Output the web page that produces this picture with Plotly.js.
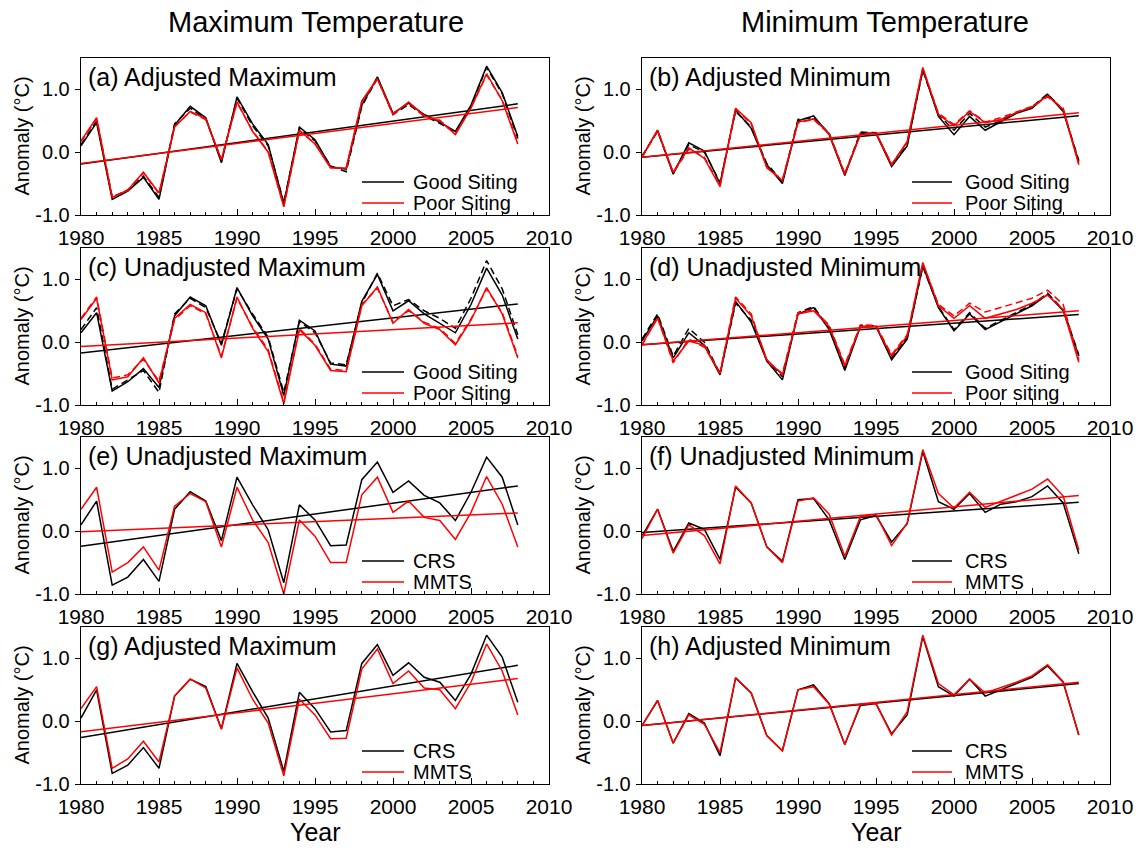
<!DOCTYPE html>
<html>
<head>
<meta charset="utf-8">
<script src="https://cdn.plot.ly/plotly-3.0.1.min.js"></script>
<style>html,body{margin:0;padding:0;background:#fff;}#chart{width:1138px;height:848px;}</style>
</head>
<body>
<div id="chart"></div>
<script>
// ---------------- DATA ----------------
const years = [1980,1981,1982,1983,1984,1985,1986,1987,1988,1989,1990,1991,1992,1993,1994,1995,1996,1997,1998,1999,2000,2001,2002,2003,2004,2005,2006,2007,2008];
const trendYears = [1980, 2008];

const columnTitles = ['Maximum Temperature', 'Minimum Temperature'];
const panelTitles = ['(a) Adjusted Maximum', '(b) Adjusted Minimum', '(c) Unadjusted Maximum', '(d) Unadjusted Minimum',
                     '(e) Unadjusted Maximum', '(f) Unadjusted Minimum', '(g) Adjusted Maximum', '(h) Adjusted Minimum'];
const legendLabels = [['Good Siting','Poor Siting'], ['Good Siting','Poor Siting'], ['Good Siting','Poor Siting'], ['Good Siting','Poor siting'],
                      ['CRS','MMTS'], ['CRS','MMTS'], ['CRS','MMTS'], ['CRS','MMTS']];
const yTickVals = [-1, 0, 1];
const yTickText = ['-1.0', '0.0', '1.0'];
const xTickVals = [1980, 1985, 1990, 1995, 2000, 2005, 2010];
const xTickText = ['1980', '1985', '1990', '1995', '2000', '2005', '2010'];
const yAxisLabel = 'Anomaly (°C)';
const xAxisLabel = 'Year';

// (a) Adjusted maximum, good vs poor siting
const aGood     = [0.10,0.47,-0.75,-0.62,-0.40,-0.75,0.43,0.73,0.55,-0.17,0.88,0.45,0.12,-0.82,0.40,0.20,-0.23,-0.27,0.75,1.20,0.62,0.78,0.60,0.48,0.33,0.75,1.37,0.95,0.25];
const aGoodDash = [0.12,0.50,-0.72,-0.60,-0.38,-0.72,0.45,0.70,0.53,-0.14,0.86,0.42,0.10,-0.80,0.38,0.18,-0.22,-0.31,0.73,1.18,0.60,0.76,0.58,0.46,0.32,0.73,1.35,0.93,0.22];
const aPoor     = [0.18,0.55,-0.72,-0.60,-0.32,-0.65,0.40,0.65,0.53,-0.12,0.80,0.33,0.00,-0.87,0.35,0.13,-0.25,-0.25,0.82,1.17,0.60,0.80,0.58,0.50,0.28,0.70,1.25,0.82,0.13];
const aPoorDash = [0.17,0.53,-0.71,-0.61,-0.33,-0.66,0.41,0.64,0.52,-0.11,0.79,0.34,0.01,-0.86,0.34,0.14,-0.24,-0.26,0.80,1.16,0.62,0.79,0.57,0.51,0.29,0.71,1.23,0.83,0.15];
const aTrendGood = [-0.19, 0.77];
const aTrendPoor = [-0.18, 0.71];

// (b) Adjusted minimum, good vs poor siting
const bGood     = [-0.08,0.35,-0.35,0.15,0.02,-0.50,0.67,0.38,-0.20,-0.50,0.50,0.58,0.28,-0.37,0.30,0.30,-0.23,0.10,1.32,0.57,0.28,0.57,0.35,0.48,0.62,0.70,0.92,0.65,-0.15];
const bGoodDash = [-0.06,0.33,-0.33,0.12,0.00,-0.48,0.65,0.40,-0.18,-0.47,0.52,0.55,0.30,-0.35,0.32,0.31,-0.21,0.12,1.30,0.60,0.35,0.62,0.40,0.50,0.63,0.72,0.93,0.66,-0.13];
const bPoor     = [-0.07,0.35,-0.32,0.07,-0.10,-0.55,0.70,0.47,-0.25,-0.45,0.48,0.53,0.30,-0.35,0.28,0.30,-0.20,0.17,1.35,0.60,0.42,0.65,0.47,0.52,0.63,0.72,0.90,0.68,-0.20];
const bPoorDash = [-0.08,0.34,-0.33,0.05,-0.08,-0.53,0.69,0.45,-0.24,-0.44,0.47,0.52,0.29,-0.34,0.29,0.31,-0.19,0.16,1.33,0.62,0.44,0.66,0.48,0.55,0.64,0.73,0.88,0.70,-0.18];
const bTrendGood = [-0.08, 0.58];
const bTrendPoor = [-0.08, 0.63];

// (c) Unadjusted maximum, good vs poor siting
const cGood     = [0.15,0.47,-0.78,-0.63,-0.42,-0.72,0.42,0.72,0.58,-0.05,0.87,0.42,0.05,-0.85,0.35,0.18,-0.35,-0.38,0.65,1.08,0.50,0.66,0.45,0.30,0.15,0.60,1.18,0.75,0.05];
const cGoodDash = [0.20,0.55,-0.75,-0.60,-0.45,-0.80,0.45,0.70,0.55,-0.02,0.85,0.45,0.08,-0.80,0.33,0.15,-0.33,-0.36,0.62,1.10,0.58,0.68,0.50,0.38,0.22,0.70,1.30,0.85,0.12];
const cPoor     = [0.36,0.70,-0.60,-0.55,-0.25,-0.65,0.38,0.60,0.47,-0.25,0.72,0.22,-0.15,-0.98,0.20,-0.05,-0.45,-0.47,0.58,0.88,0.30,0.52,0.30,0.20,-0.04,0.35,0.87,0.45,-0.25];
const cPoorDash = [0.38,0.72,-0.57,-0.52,-0.27,-0.62,0.36,0.58,0.45,-0.22,0.70,0.24,-0.12,-0.95,0.22,-0.03,-0.43,-0.45,0.60,0.86,0.32,0.50,0.32,0.22,-0.02,0.37,0.85,0.47,-0.22];
const cTrendGood = [-0.17, 0.61];
const cTrendPoor = [-0.07, 0.31];

// (d) Unadjusted minimum, good vs poor siting
const dGood     = [0.02,0.42,-0.25,0.15,-0.05,-0.52,0.65,0.32,-0.30,-0.60,0.45,0.55,0.20,-0.45,0.25,0.25,-0.28,0.05,1.22,0.55,0.18,0.45,0.20,0.33,0.45,0.58,0.76,0.50,-0.22];
const dGoodDash = [0.05,0.45,-0.22,0.22,0.00,-0.50,0.62,0.35,-0.28,-0.55,0.47,0.57,0.22,-0.42,0.27,0.26,-0.25,0.08,1.20,0.57,0.20,0.47,0.22,0.35,0.47,0.60,0.78,0.52,-0.20];
const dPoor     = [-0.03,0.38,-0.30,0.02,-0.05,-0.50,0.70,0.42,-0.28,-0.52,0.45,0.50,0.25,-0.38,0.25,0.25,-0.22,0.10,1.27,0.58,0.38,0.58,0.38,0.45,0.52,0.62,0.75,0.52,-0.32];
const dPoorDash = [-0.05,0.40,-0.33,0.05,-0.08,-0.48,0.72,0.45,-0.30,-0.50,0.47,0.52,0.27,-0.36,0.27,0.27,-0.20,0.12,1.25,0.60,0.42,0.62,0.48,0.55,0.62,0.70,0.83,0.60,-0.28];
const dTrendGood = [-0.04, 0.44];
const dTrendPoor = [-0.04, 0.50];

// (e) Unadjusted maximum, CRS vs MMTS
const eCRS  = [0.10,0.48,-0.86,-0.73,-0.45,-0.80,0.35,0.63,0.48,-0.15,0.86,0.42,0.02,-0.82,0.42,0.18,-0.23,-0.22,0.82,1.10,0.62,0.80,0.57,0.45,0.17,0.62,1.18,0.86,0.10];
const eMMTS = [0.35,0.70,-0.65,-0.50,-0.25,-0.62,0.40,0.60,0.47,-0.25,0.70,0.18,-0.18,-1.00,0.18,-0.08,-0.50,-0.50,0.58,0.86,0.30,0.48,0.22,0.17,-0.13,0.30,0.87,0.43,-0.25];
const eTrendCRS  = [-0.24, 0.72];
const eTrendMMTS = [-0.01, 0.29];

// (f) Unadjusted minimum, CRS vs MMTS
const fCRS  = [-0.08,0.35,-0.32,0.13,0.03,-0.45,0.70,0.45,-0.25,-0.48,0.50,0.52,0.18,-0.45,0.18,0.25,-0.17,0.12,1.27,0.47,0.35,0.60,0.30,0.43,0.47,0.55,0.72,0.45,-0.36];
const fMMTS = [-0.12,0.35,-0.35,0.10,-0.07,-0.52,0.72,0.45,-0.25,-0.50,0.48,0.53,0.27,-0.40,0.23,0.27,-0.23,0.13,1.30,0.60,0.37,0.62,0.38,0.48,0.57,0.67,0.83,0.56,-0.30];
const fTrendCRS  = [-0.02, 0.46];
const fTrendMMTS = [-0.07, 0.57];

// (g) Adjusted maximum, CRS vs MMTS
const gCRS  = [0.05,0.50,-0.83,-0.70,-0.42,-0.75,0.40,0.67,0.55,-0.12,0.92,0.47,0.05,-0.80,0.46,0.20,-0.17,-0.15,0.92,1.22,0.73,0.93,0.70,0.62,0.33,0.75,1.37,1.02,0.30];
const gMMTS = [0.20,0.55,-0.75,-0.60,-0.32,-0.65,0.40,0.67,0.53,-0.13,0.85,0.35,-0.03,-0.87,0.35,0.10,-0.28,-0.27,0.83,1.15,0.60,0.80,0.53,0.50,0.20,0.62,1.23,0.80,0.10];
const gTrendCRS  = [-0.26, 0.89];
const gTrendMMTS = [-0.17, 0.68];

// (h) Adjusted minimum, CRS vs MMTS
const hCRS  = [-0.07,0.33,-0.35,0.12,-0.03,-0.55,0.69,0.45,-0.23,-0.47,0.50,0.58,0.28,-0.37,0.25,0.28,-0.20,0.10,1.35,0.55,0.40,0.67,0.40,0.50,0.60,0.70,0.88,0.62,-0.22];
const hMMTS = [-0.07,0.33,-0.35,0.10,-0.05,-0.50,0.69,0.45,-0.23,-0.47,0.50,0.55,0.27,-0.37,0.27,0.28,-0.22,0.15,1.37,0.60,0.42,0.67,0.45,0.53,0.62,0.72,0.90,0.63,-0.22];
const hTrendCRS  = [-0.07, 0.60];
const hTrendMMTS = [-0.07, 0.62];

// ---------------- PANELS (built from the arrays above) ----------------
const panels = [
  {black: aGood, blackDash: aGoodDash, red: aPoor, redDash: aPoorDash, tBlack: aTrendGood, tRed: aTrendPoor},
  {black: bGood, blackDash: bGoodDash, red: bPoor, redDash: bPoorDash, tBlack: bTrendGood, tRed: bTrendPoor},
  {black: cGood, blackDash: cGoodDash, red: cPoor, redDash: cPoorDash, tBlack: cTrendGood, tRed: cTrendPoor},
  {black: dGood, blackDash: dGoodDash, red: dPoor, redDash: dPoorDash, tBlack: dTrendGood, tRed: dTrendPoor},
  {black: eCRS, red: eMMTS, tBlack: eTrendCRS, tRed: eTrendMMTS},
  {black: fCRS, red: fMMTS, tBlack: fTrendCRS, tRed: fTrendMMTS},
  {black: gCRS, red: gMMTS, tBlack: gTrendCRS, tRed: gTrendMMTS},
  {black: hCRS, red: hMMTS, tBlack: hTrendCRS, tRed: hTrendMMTS}
];

// ---------------- LAYOUT GEOMETRY (pixels) ----------------
const W = 1138, H = 848;
const colX = [[81, 549], [642, 1110]];
const rowY = [[58, 215], [248, 405], [437, 594], [627, 784]];
// legend line start/end and text start, relative to the panel's left edge
const legendOffsets = [[281, 323, 331], [270, 310, 322]];
const px = x => x / W;
const py = y => 1 - y / H;

const FONT = 'Liberation Sans, Arial, Helvetica, sans-serif';
const BLACK = '#000000', RED = '#ff0000';
const LW = 1.5;

const traces = [];
const layout = {
  width: W, height: H,
  margin: {l: 0, r: 0, t: 0, b: 0, pad: 0},
  paper_bgcolor: '#ffffff', plot_bgcolor: '#ffffff',
  showlegend: false,
  font: {family: FONT, color: '#000000'},
  annotations: [], shapes: []
};

panels.forEach((p, i) => {
  const col = i % 2, row = Math.floor(i / 2);
  const n = i + 1;
  const xa = n === 1 ? 'x' : 'x' + n;
  const ya = n === 1 ? 'y' : 'y' + n;
  const xKey = n === 1 ? 'xaxis' : 'xaxis' + n;
  const yKey = n === 1 ? 'yaxis' : 'yaxis' + n;
  const [L, R] = colX[col];
  const [T, B] = rowY[row];

  layout[xKey] = {
    domain: [px(L), px(R)], anchor: ya, range: [1980, 2010],
    tickmode: 'array', tickvals: xTickVals, ticktext: xTickText,
    ticks: 'inside', ticklen: 6, tickwidth: 1, tickcolor: '#000',
    minor: {tickmode: 'linear', tick0: 1980, dtick: 1, ticks: 'inside', ticklen: 3, tickwidth: 1, tickcolor: '#000', showgrid: false},
    showline: true, mirror: true, linecolor: '#000', linewidth: 1.3,
    showgrid: false, zeroline: false,
    tickfont: {family: FONT, size: 21, color: '#000'},
    ticklabelstandoff: 3, fixedrange: true
  };
  layout[yKey] = {
    domain: [py(B), py(T)], anchor: xa, range: [-1, 1.5],
    tickmode: 'array', tickvals: yTickVals, ticktext: yTickText,
    ticks: 'outside', ticklen: 5, tickwidth: 1, tickcolor: '#000',
    showline: true, mirror: true, linecolor: '#000', linewidth: 1.3,
    showgrid: false, zeroline: false,
    tickfont: {family: FONT, size: 20, color: '#000'},
    ticklabelstandoff: 1, fixedrange: true
  };

  const add = (y, color, dash, x) => traces.push({
    type: 'scatter', mode: 'lines', x: x || years, y: y, xaxis: xa, yaxis: ya,
    line: {color: color, width: LW, dash: dash || 'solid'}, hoverinfo: 'skip'
  });
  if (p.blackDash) add(p.blackDash, BLACK, '7px,4px');
  add(p.black, BLACK);
  add(p.tBlack, BLACK, 'solid', trendYears);
  if (p.redDash) add(p.redDash, RED, '7px,4px');
  add(p.red, RED);
  add(p.tRed, RED, 'solid', trendYears);

  // panel title
  layout.annotations.push({
    xref: 'paper', yref: 'paper', x: px(L + 5), y: py(T + 19), xanchor: 'left', yanchor: 'middle',
    text: panelTitles[i], showarrow: false, font: {family: FONT, size: 25, color: '#000'}
  });
  // y axis label
  layout.annotations.push({
    xref: 'paper', yref: 'paper', x: px(L - 60), y: py((T + B) / 2), xanchor: 'center', yanchor: 'middle',
    text: yAxisLabel, textangle: -90, showarrow: false, font: {family: FONT, size: 20, color: '#000'}
  });
  // legend
  const [lx0, lx1, tx] = legendOffsets[col].map(v => L + v);
  const ly = [B - 33, B - 12];
  [BLACK, RED].forEach((c, k) => {
    layout.shapes.push({type: 'line', xref: 'paper', yref: 'paper', x0: px(lx0), x1: px(lx1), y0: py(ly[k]), y1: py(ly[k]),
      line: {color: c, width: LW}});
    layout.annotations.push({
      xref: 'paper', yref: 'paper', x: px(tx), y: py(ly[k]), xanchor: 'left', yanchor: 'middle', borderpad: 0,
      text: legendLabels[i][k], showarrow: false, font: {family: FONT, size: 20, color: '#000'}
    });
  });
});

// column titles
[316, 885].forEach((cx, k) => layout.annotations.push({
  xref: 'paper', yref: 'paper', x: px(cx), y: py(22), xanchor: 'center', yanchor: 'middle',
  text: columnTitles[k], showarrow: false, font: {family: FONT, size: 29, color: '#000'}
}));
// x axis labels
[315, 876].forEach(cx => layout.annotations.push({
  xref: 'paper', yref: 'paper', x: px(cx), y: py(832), xanchor: 'center', yanchor: 'middle',
  text: xAxisLabel, showarrow: false, font: {family: FONT, size: 25, color: '#000'}
}));

Plotly.newPlot('chart', traces, layout, {staticPlot: true, displayModeBar: false});
</script>
</body>
</html>
